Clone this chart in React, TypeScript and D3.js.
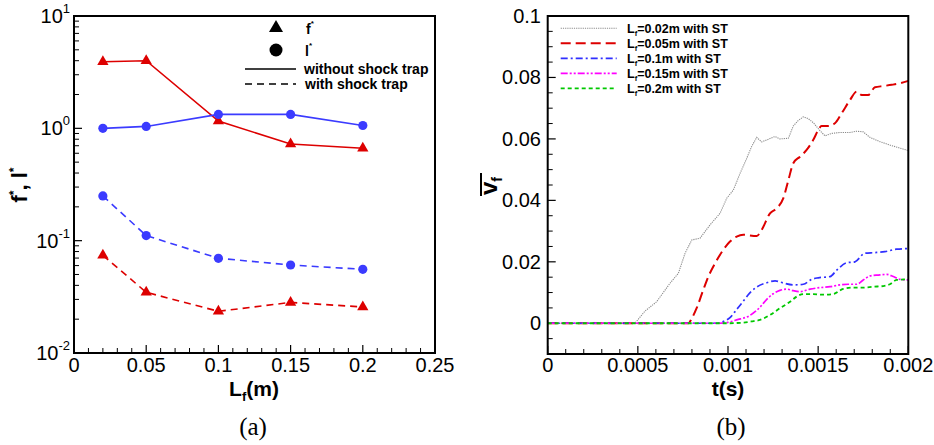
import React from "react";
import * as d3 from "d3";

// ---------- Panel (a) data ----------
const lfValues = [0.02, 0.05, 0.1, 0.15, 0.2];
const fStarWithout = [3.92, 4.0, 1.16, 0.725, 0.664];
const lStarWithout = [1.0, 1.04, 1.33, 1.33, 1.06];
const lStarWith = [0.25, 0.111, 0.0697, 0.0607, 0.0556];
const fStarWith = [0.074, 0.0347, 0.0235, 0.0282, 0.0257];
const xTicksA = [0, 0.05, 0.1, 0.15, 0.2, 0.25];
const xTickLabelsA = ["0", "0.05", "0.1", "0.15", "0.2", "0.25"];
const yDecadesA = [-2, -1, 0, 1];

// ---------- Panel (b) data: [t (s), v] ----------
const series002: [number, number][] = [
  [0, 0], [0.000484, 0], [0.00054, 0.004], [0.000604, 0.007], [0.000678, 0.013], [0.000725, 0.0163],
  [0.000762, 0.0228], [0.000799, 0.0271], [0.000845, 0.0277], [0.0009, 0.032], [0.000956, 0.0358],
  [0.000993, 0.0407], [0.00103, 0.0434], [0.001067, 0.0488], [0.001104, 0.0537], [0.001131, 0.0575],
  [0.001159, 0.0605], [0.001187, 0.059], [0.001224, 0.0599], [0.001261, 0.0608], [0.001288, 0.06],
  [0.001335, 0.0602], [0.001362, 0.0642], [0.00139, 0.066], [0.001418, 0.0672], [0.001445, 0.0666],
  [0.001473, 0.0653], [0.00151, 0.0627], [0.001538, 0.061], [0.001575, 0.0618], [0.001621, 0.0621],
  [0.001677, 0.0621], [0.001714, 0.0625], [0.00175, 0.0623], [0.001787, 0.0605], [0.001843, 0.0591],
  [0.001898, 0.058], [0.001954, 0.057], [0.002, 0.0562],
];
const series005: [number, number][] = [
  [0, 0], [0.00078, 0], [0.000799, 0.0016], [0.000826, 0.0049], [0.000863, 0.0109], [0.000891, 0.0152],
  [0.000928, 0.0195], [0.000974, 0.0239], [0.001011, 0.0266], [0.001048, 0.0282], [0.001085, 0.0288],
  [0.001159, 0.0284], [0.001187, 0.0304], [0.001233, 0.0358], [0.00127, 0.0374], [0.001307, 0.0407],
  [0.001335, 0.0466], [0.001362, 0.0521], [0.001399, 0.0542], [0.001436, 0.0564], [0.001473, 0.0597],
  [0.001501, 0.0629], [0.001519, 0.0642], [0.001556, 0.0642], [0.001593, 0.0651], [0.00163, 0.0683],
  [0.001677, 0.0727], [0.001714, 0.0754], [0.001741, 0.0743], [0.001778, 0.0743], [0.001815, 0.0768],
  [0.001861, 0.0772], [0.001908, 0.0776], [0.001954, 0.0781], [0.002, 0.0789],
];
const series010: [number, number][] = [
  [0, 0], [0.000946, 0], [0.00097, 0.0005], [0.001011, 0.0018], [0.001048, 0.0045], [0.001085, 0.0072],
  [0.00112, 0.0098], [0.001159, 0.0118], [0.001215, 0.0132], [0.001261, 0.0138], [0.001307, 0.0131],
  [0.001362, 0.0125], [0.001418, 0.0127], [0.001464, 0.0143], [0.001501, 0.0148], [0.001566, 0.0152],
  [0.001603, 0.0173], [0.001658, 0.0197], [0.001704, 0.02], [0.001759, 0.0228], [0.001815, 0.023],
  [0.00187, 0.0233], [0.001935, 0.0241], [0.002, 0.0243],
];
const series015: [number, number][] = [
  [0, 0], [0.00095, 0], [0.001, 0.0003], [0.001048, 0.0011], [0.00112, 0.0025], [0.001177, 0.0052],
  [0.001215, 0.0078], [0.001251, 0.0096], [0.001288, 0.0107], [0.001326, 0.0111], [0.001362, 0.0106],
  [0.001399, 0.0103], [0.001455, 0.0111], [0.00151, 0.0116], [0.001566, 0.0119], [0.001621, 0.0125],
  [0.001667, 0.0127], [0.001714, 0.0127], [0.00175, 0.0141], [0.001788, 0.0154], [0.001834, 0.0157],
  [0.00188, 0.0159], [0.001917, 0.0152], [0.001954, 0.0143], [0.002, 0.0141],
];
const series020: [number, number][] = [
  [0, 0], [0.00099, 0], [0.00108, 0.0002], [0.00113, 0.0006], [0.001177, 0.0011], [0.001233, 0.0027],
  [0.001288, 0.0049], [0.001344, 0.007], [0.001381, 0.0087], [0.001418, 0.0095], [0.001473, 0.0095],
  [0.001528, 0.0093], [0.001584, 0.0095], [0.001639, 0.0112], [0.001695, 0.0116], [0.00175, 0.0116],
  [0.001806, 0.0119], [0.001861, 0.0121], [0.001898, 0.0127], [0.001935, 0.0141], [0.002, 0.0143],
];
const seriesLabels = ["=0.02m with ST", "=0.05m with ST", "=0.1m with ST", "=0.15m with ST", "=0.2m with ST"];
const xTicksB = [0, 0.0005, 0.001, 0.0015, 0.002];
const xTickLabelsB = ["0", "0.0005", "0.001", "0.0015", "0.002"];
const yTicksB = [0, 0.02, 0.04, 0.06, 0.08, 0.1];
const yTickLabelsB = ["0", "0.02", "0.04", "0.06", "0.08", "0.1"];

const SANS = "'Liberation Sans', Arial, Helvetica, sans-serif";
const SERIF = "'Liberation Serif', 'Times New Roman', serif";
const RED = "#dd0000";
const BLUE = "#3b3bff";

const A = { x0: 74, x1: 435, y0: 16, y1: 353 };
const B = { x0: 547.7, x1: 908.3, y0: 16, y1: 354 };

export default function App() {
  const xA = d3.scaleLinear().domain([0, 0.25]).range([A.x0, A.x1]);
  const yA = d3.scaleLog().domain([0.01, 10]).range([A.y1, A.y0]);
  const xB = d3.scaleLinear().domain([0, 0.002]).range([B.x0, B.x1]);
  const yB = d3.scaleLinear().domain([-0.01, 0.1]).range([B.y1, B.y0]);

  const lineA = d3.line<[number, number]>().x((d) => xA(d[0])).y((d) => yA(d[1]));
  const zipA = (vals: number[]) => lfValues.map((x, i) => [x, vals[i]] as [number, number]);

  const lineBLin = d3.line<[number, number]>().x((d) => xB(d[0])).y((d) => yB(d[1]));
  const lineBSm = d3.line<[number, number]>().x((d) => xB(d[0])).y((d) => yB(d[1])).curve(d3.curveMonotoneX);

  const tri = (size: number) => d3.symbol().type(d3.symbolTriangle).size(size)() as string;

  const minorXA = d3.range(0, 26).map((i) => i * 0.01).filter((v) => Math.round(v * 100) % 5 !== 0);
  const minorYA: number[] = [];
  for (let e = -2; e < 1; e++) for (let m = 2; m <= 9; m++) minorYA.push(m * Math.pow(10, e));
  const minorXB = d3.range(0, 21).map((i) => i * 0.0001).filter((_, i) => i % 5 !== 0);
  const minorYB = d3.range(-2, 21).map((i) => i * 0.005).filter((v) => Math.round(v * 1000) % 20 !== 0);

  const seriesB = [
    { data: series002, color: "#8a8a8a", dash: "1.2,1", width: 1.1, curve: lineBLin },
    { data: series005, color: RED, dash: "10,5", width: 2, curve: lineBSm },
    { data: series010, color: "#2f2fff", dash: "7,3,2,3", width: 1.7, curve: lineBSm },
    { data: series015, color: "#ff00ff", dash: "7,2,2,2,2,2", width: 1.7, curve: lineBSm },
    { data: series020, color: "#00c800", dash: "4,3", width: 1.8, curve: lineBSm },
  ];

  return (
    <svg width={934} height={445} style={{ position: "absolute", left: 0, top: 0, background: "#fff" }}
      fontFamily={SANS}>
      <rect x={0} y={0} width={934} height={445} fill="#fff" />
      <defs>
        <clipPath id="clipB">
          <rect x={B.x0} y={B.y0} width={B.x1 - B.x0} height={B.y1 - B.y0} />
        </clipPath>
      </defs>

      {/* ================= Panel (a) ================= */}
      <g>
        {xTicksA.map((v) => (
          <line key={"xa" + v} x1={xA(v)} x2={xA(v)} y1={A.y1} y2={A.y1 - 8} stroke="#000" strokeWidth={1.2} />
        ))}
        {minorXA.map((v) => (
          <line key={"mxa" + v} x1={xA(v)} x2={xA(v)} y1={A.y1} y2={A.y1 - 5} stroke="#000" strokeWidth={1} />
        ))}
        {yDecadesA.map((e) => (
          <line key={"ya" + e} x1={A.x0} x2={A.x0 + 8} y1={yA(Math.pow(10, e))} y2={yA(Math.pow(10, e))} stroke="#000" strokeWidth={1.2} />
        ))}
        {minorYA.map((v) => (
          <line key={"mya" + v} x1={A.x0} x2={A.x0 + 5} y1={yA(v)} y2={yA(v)} stroke="#000" strokeWidth={1} />
        ))}
        {xTicksA.map((v, i) => (
          <text key={"xla" + v} x={xA(v)} y={372} fontSize={20} textAnchor="middle">{xTickLabelsA[i]}</text>
        ))}
        {yDecadesA.map((e) => (
          <text key={"yla" + e} x={70} y={yA(Math.pow(10, e)) + 7} fontSize={20} textAnchor="end">
            10<tspan fontSize={13} dy={-10}>{e}</tspan>
          </text>
        ))}

        <path d={lineA(zipA(fStarWithout)) as string} fill="none" stroke={RED} strokeWidth={1.6} />
        <path d={lineA(zipA(lStarWithout)) as string} fill="none" stroke={BLUE} strokeWidth={1.6} />
        <path d={lineA(zipA(lStarWith)) as string} fill="none" stroke={BLUE} strokeWidth={1.6} strokeDasharray="7,5" />
        <path d={lineA(zipA(fStarWith)) as string} fill="none" stroke={RED} strokeWidth={1.6} strokeDasharray="7,5" />
        {[fStarWithout, fStarWith].map((vals, k) =>
          vals.map((v, i) => (
            <path key={"tr" + k + i} d={tri(55)} transform={`translate(${xA(lfValues[i])},${yA(v)})`} fill={RED} />
          ))
        )}
        {[lStarWithout, lStarWith].map((vals, k) =>
          vals.map((v, i) => (
            <circle key={"ci" + k + i} cx={xA(lfValues[i])} cy={yA(v)} r={4.6} fill={BLUE} />
          ))
        )}

        <rect x={A.x0} y={A.y0} width={A.x1 - A.x0} height={A.y1 - A.y0} fill="none" stroke="#000" strokeWidth={2} />

        <path d={tri(85)} transform="translate(276,28)" fill="#000" />
        <text x={306} y={33.5} fontSize={14} fontWeight="bold">f<tspan fontSize={8} dy={-8}>*</tspan></text>
        <circle cx={276} cy={50} r={6.5} fill="#000" />
        <text x={305} y={55.5} fontSize={14} fontWeight="bold">l<tspan fontSize={8} dy={-8}>*</tspan></text>
        <line x1={245} x2={296} y1={69} y2={69} stroke="#000" strokeWidth={1.5} />
        <text x={304} y={74} fontSize={14} fontWeight="bold">without shock trap</text>
        <line x1={245} x2={296} y1={84} y2={84} stroke="#000" strokeWidth={1.5} strokeDasharray="7,5" />
        <text x={305} y={89} fontSize={14} fontWeight="bold">with shock trap</text>

        <text x={254} y={396} fontSize={21} fontWeight="bold" textAnchor="middle">
          L<tspan fontSize={13} dy={5}>f</tspan><tspan dy={-5}>(m)</tspan>
        </text>
        <text transform="translate(27,185) rotate(-90)" fontSize={22} fontWeight="bold" textAnchor="middle">
          f<tspan fontSize={12} dy={-9}>*</tspan><tspan dy={9}>, l</tspan><tspan fontSize={12} dy={-9}>*</tspan>
        </text>
        <text x={253} y={435} fontSize={25} fontFamily={SERIF} textAnchor="middle">(a)</text>
      </g>

      {/* ================= Panel (b) ================= */}
      <g>
        {xTicksB.map((v) => (
          <line key={"xb" + v} x1={xB(v)} x2={xB(v)} y1={B.y1} y2={B.y1 - 8} stroke="#000" strokeWidth={1.2} />
        ))}
        {minorXB.map((v) => (
          <line key={"mxb" + v} x1={xB(v)} x2={xB(v)} y1={B.y1} y2={B.y1 - 5} stroke="#000" strokeWidth={1} />
        ))}
        {yTicksB.map((v) => (
          <line key={"yb" + v} x1={B.x0} x2={B.x0 + 8} y1={yB(v)} y2={yB(v)} stroke="#000" strokeWidth={1.2} />
        ))}
        {minorYB.map((v) => (
          <line key={"myb" + v} x1={B.x0} x2={B.x0 + 5} y1={yB(v)} y2={yB(v)} stroke="#000" strokeWidth={1} />
        ))}
        {xTicksB.map((v, i) => (
          <text key={"xlb" + v} x={xB(v)} y={372} fontSize={20} textAnchor="middle">{xTickLabelsB[i]}</text>
        ))}
        {yTicksB.map((v, i) => (
          <text key={"ylb" + v} x={541} y={yB(v) + 7} fontSize={20} textAnchor="end">{yTickLabelsB[i]}</text>
        ))}

        <g clipPath="url(#clipB)">
          {seriesB.map((s, i) => (
            <path key={"sb" + i} d={s.curve(s.data) as string} fill="none" stroke={s.color}
              strokeWidth={s.width} strokeDasharray={s.dash} />
          ))}
        </g>

        <rect x={B.x0} y={B.y0} width={B.x1 - B.x0} height={B.y1 - B.y0} fill="none" stroke="#000" strokeWidth={2} />

        {seriesB.map((s, i) => {
          const ly = 28.3 + i * 15;
          return (
            <g key={"lg" + i}>
              <line x1={560.7} x2={616.7} y1={ly} y2={ly} stroke={s.color} strokeWidth={s.width} strokeDasharray={s.dash} />
              <text x={627} y={ly + 4.5} fontSize={12.5} fontWeight="bold">
                L<tspan fontSize={7.5} dy={3}>f</tspan><tspan dy={-3}>{seriesLabels[i]}</tspan>
              </text>
            </g>
          );
        })}

        <text x={728} y={396} fontSize={21} fontWeight="bold" textAnchor="middle">t(s)</text>
        <g transform="translate(497,195) rotate(-90)">
          <text x={0} y={0} fontSize={24} fontWeight="bold">
            v<tspan fontSize={14} dy={5}>f</tspan>
          </text>
          <line x1={-1} x2={22} y1={-16} y2={-16} stroke="#000" strokeWidth={2} />
        </g>
        <text x={731} y={435} fontSize={25} fontFamily={SERIF} textAnchor="middle">(b)</text>
      </g>
    </svg>
  );
}
